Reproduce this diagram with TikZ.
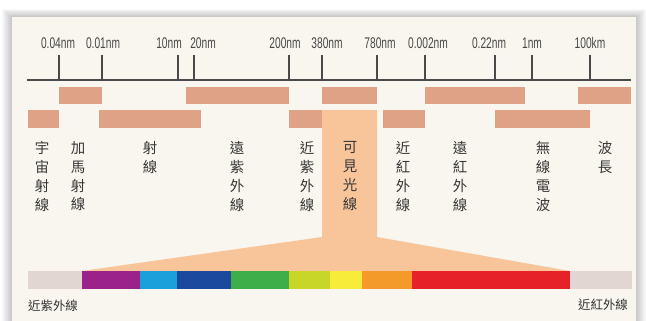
\documentclass[tikz,border=0pt]{standalone}
\usepackage{fontspec}
\setmainfont{Liberation Sans}
\newfontfamily\cjkfont{Noto Sans CJK TC}
\newfontfamily\narrowfont[FakeStretch=0.66]{Liberation Sans}
\usetikzlibrary{positioning, calc}
\definecolor{cardbg}{HTML}{F8F6EE}
\definecolor{bandcol}{HTML}{DFA286}
\definecolor{lightcol}{HTML}{F8C49A}
\definecolor{axiscol}{HTML}{4A4A4A}
\definecolor{endcol}{HTML}{E2D6D2}
\definecolor{violetcol}{HTML}{9B2288}
\definecolor{skycol}{HTML}{1BA0DC}
\definecolor{bluecol}{HTML}{1B4A9C}
\definecolor{greencol}{HTML}{3DAE4A}
\definecolor{limecol}{HTML}{C8D62A}
\definecolor{yellowcol}{HTML}{F7EC3A}
\definecolor{orangecol}{HTML}{F39A2A}
\definecolor{redcol}{HTML}{E62228}

\begin{document}
\begin{tikzpicture}[x=1bp, y=-1bp,
    band/.style={fill=bandcol, draw=none},
    tickline/.style={draw=axiscol, line width=1.4bp},
    ticklabel/.style={font=\narrowfont\fontsize{15.5}{15.5}\selectfont, text=black!72, inner sep=0pt},
    vlabel/.style={font=\cjkfont\fontsize{14.5}{19}\selectfont, align=center, anchor=north, inner sep=0pt, text=black!78},
    endlabel/.style={font=\cjkfont\fontsize{12.5}{12.5}\selectfont, inner sep=0pt, text=black!80}]
    \useasboundingbox (0,0) rectangle (646,320);
    % shadow and card
    \foreach \s in {1,...,10}
        \fill[black, opacity=0.025] (12-\s,17-0.8*\s) rectangle (636+\s,330);
    \fill[cardbg] (12,17) rectangle (636,330);
    % axis with ticks
    \coordinate (axL) at (27,80);
    \coordinate (axR) at (631,80);
    \draw[tickline] (axL) -- (axR);
    \foreach \x/\lx/\lab [count=\i] in {59/58/0.04nm, 102/103/0.01nm, 178/169/10nm, 194/203/20nm,
        289/285/200nm, 322/327/380nm, 377/380/780nm, 425/428/0.002nm, 495/489/0.22nm,
        532/532/1nm, 590/590/100km} {
        \coordinate (t\i) at (\x,80);
        \draw[tickline] (\x,55) -- (t\i);
        \node[ticklabel] (l\i) at (\lx,43) {\lab};
    }
    % first row of bands
    \fill[band] (59,87) rectangle (102,104);
    \fill[band] (186,87) rectangle (289,104);
    \fill[band] (322,87) rectangle (377,104);
    \fill[band] (425,87) rectangle (525,104);
    \fill[band] (578,87) rectangle (631,104);
    % second row of bands
    \fill[band] (28,110) rectangle (59,128);
    \fill[band] (99,110) rectangle (201,128);
    \fill[band] (289,110) rectangle (322,128);
    \fill[band] (383,110) rectangle (425,128);
    \fill[band] (495,110) rectangle (590,128);
    % visible light funnel
    \fill[lightcol] (322,110) -- (377,110) -- (377,237) -- (570,271) -- (82,271) -- (322,237) -- cycle;
    % spectrum strip
    \foreach \a/\b/\c in {28/82/endcol, 82/140/violetcol, 140/177/skycol, 177/231/bluecol,
        231/289/greencol, 289/330/limecol, 330/362/yellowcol, 362/412/orangecol,
        412/570/redcol, 570/632/endcol}
        \fill[\c] (\a,271) rectangle (\b,289);
    % names of the ranges
    \node[vlabel] (cosmic) at (42,141) {宇\\宙\\射\\線};
    \node[vlabel] (gamma) at (78,141) {加\\馬\\射\\線};
    \node[vlabel] (xray) at (150,141) {射\\線};
    \node[vlabel] (fuv) at (237,141) {遠\\紫\\外\\線};
    \node[vlabel] (nuv) at (307,141) {近\\紫\\外\\線};
    \node[vlabel] (vis) at (350,141) {可\\見\\光\\線};
    \node[vlabel] (nir) at (403,141) {近\\紅\\外\\線};
    \node[vlabel] (fir) at (460,141) {遠\\紅\\外\\線};
    \node[vlabel] (radio) at (543,141) {無\\線\\電\\波};
    \node[vlabel] (wave) at (605,141) {波\\長};
    \node[endlabel] (uvend) at (53,306) {近紫外線};
    \node[endlabel] (irend) at (603,305) {近紅外線};
\end{tikzpicture}
\end{document}
